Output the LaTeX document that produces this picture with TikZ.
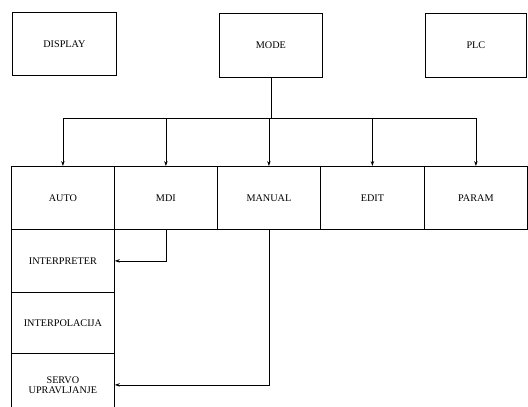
\documentclass[tikz,border=0pt]{standalone}
\usepackage{fontspec}
\setmainfont{Liberation Serif}
\usetikzlibrary{arrows.meta,positioning}

\tikzset{
  blok/.style={draw, line width=0.8pt, anchor=north west, inner sep=0pt,
    minimum width=103pt, minimum height=63pt, align=center,
    font=\fontsize{10.2}{10}\selectfont},
  veza/.style={line width=0.8pt, -{Stealth[length=5pt,width=3.5pt]}},
}

\begin{document}
\begin{tikzpicture}[x=1pt, y=-1pt]
    \useasboundingbox (0,0) rectangle (528,407);
    \clip (0,0) rectangle (528,407);

    % Top row
    \node[blok, minimum width=104pt] (display) at (12,12) {DISPLAY};
    \node[blok, minimum height=64pt] (mode) at (219,13) {MODE};
    \node[blok, minimum width=101pt, minimum height=64pt] (plc) at (425,13) {PLC};

    % Modes
    \node[blok] (auto) at (11,166) {AUTO};
    \node[blok] (mdi) at (114,166) {MDI};
    \node[blok] (manual) at (217,166) {MANUAL};
    \node[blok, minimum width=104pt] (edit) at (320,166) {EDIT};
    \node[blok] (param) at (424,166) {PARAM};

    % Left column
    \node[blok] (interpreter) at (11,229) {INTERPRETER};
    \node[blok, minimum height=61pt] (interpolacija) at (11,292) {INTERPOLACIJA};
    \node[blok] (servo) at (11,353) {SERVO\\UPRAVLJANJE};

    % Bus from MODE
    \coordinate (bus) at (270,118);
    \draw[line width=0.8pt] (mode.south) -- (mode.south |- bus);
    \draw[line width=0.8pt] (bus -| auto.north) -- (bus -| param.north);
    \foreach \n in {auto,mdi,manual,edit,param}
        \draw[veza] (bus -| \n.north) -- (\n.north);

    % Links to the left column
    \draw[veza] (mdi.south) |- (interpreter.east);
    \draw[veza] (manual.south) |- (servo.east);
\end{tikzpicture}
\end{document}
